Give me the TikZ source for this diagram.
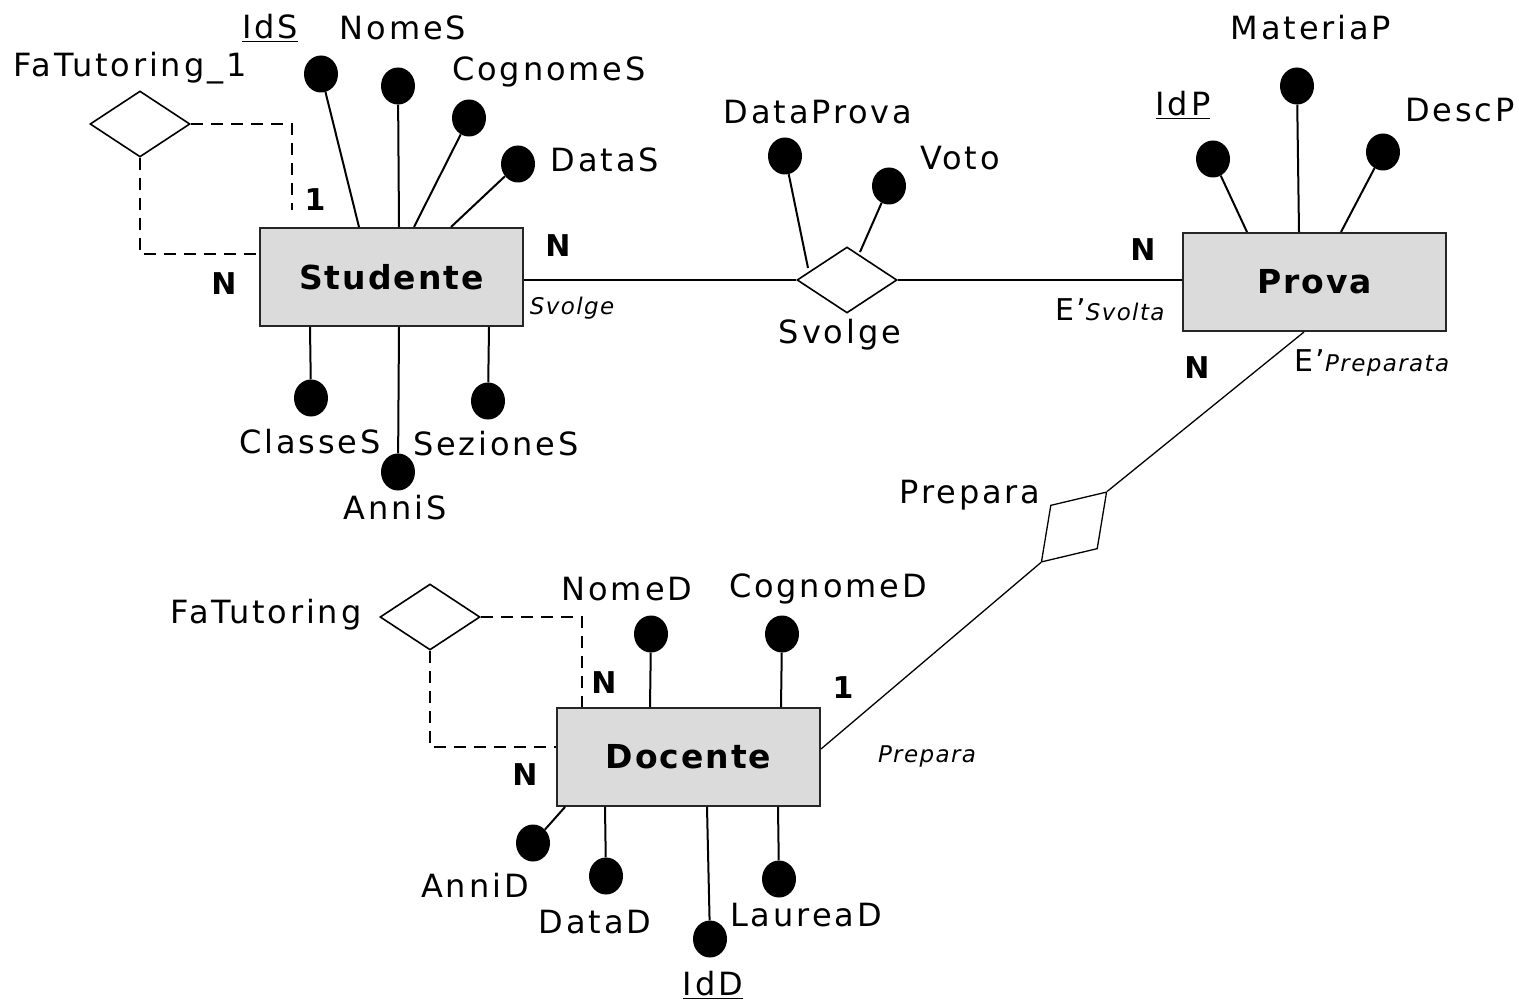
\documentclass[tikz,border=0pt]{standalone}
\usepackage{fontspec}
\setmainfont{DejaVu Sans}[LetterSpace=6]
\newfontfamily\lblfont{DejaVu Sans}[LetterSpace=9]
\usetikzlibrary{shapes.geometric}
\begin{document}
\begin{tikzpicture}[x=1pt,y=-1pt,
 entity/.style={draw=black!85, line width=2pt, fill=black!14, minimum width=263pt, minimum height=98pt, inner sep=0pt, font=\fontsize{33}{40}\selectfont\bfseries},
 rel/.style={draw, shape=diamond, line width=1.6pt, inner sep=0pt, minimum width=100pt, minimum height=66pt, fill=white},
 attr/.style={ellipse, fill=black, minimum width=34pt, minimum height=37pt, inner sep=0pt},
 lbl/.style={font=\lblfont\fontsize{32}{38}\selectfont, inner sep=0pt},
 card/.style={font=\fontsize{30}{36}\selectfont\bfseries, inner sep=0pt},
 role/.style={font=\fontsize{23}{28}\selectfont\itshape, inner sep=0pt},
 conn/.style={line width=2pt},
 thinconn/.style={line width=1.3pt},
 dconn/.style={line width=2pt, dash pattern=on 12pt off 8pt}]
\fill[white] (0,0) rectangle (1519,1003);
\useasboundingbox (0,0) rectangle (1519,1003);

% entities
\node[entity] (stud) at (391.5,277) {Studente};
\node[entity] (prova) at (1314.5,282) {Prova};
\node[entity] (doc) at (688.5,757) {Docente};

% relationships
\node[rel] (svolge) at (847,280) {};
\node[rel] (fat1) at (140,124) {};
\node[rel] (fat) at (430,617) {};
\node[rel, rotate=47, minimum width=96pt, minimum height=64pt, line width=1.3pt] (prep) at (1074,527) {};

% attributes
\node[attr] (ids) at (321,74) {};
\node[attr] (nomes) at (398,86) {};
\node[attr] (cognomes) at (469,118) {};
\node[attr] (datas) at (518,164) {};
\node[attr] (classes) at (311,398) {};
\node[attr] (annis) at (398,472) {};
\node[attr] (seziones) at (488,401) {};
\node[attr] (dataprova) at (785,156) {};
\node[attr] (voto) at (889,186) {};
\node[attr] (idp) at (1213,159) {};
\node[attr] (materiap) at (1297,86) {};
\node[attr] (descp) at (1383,152) {};
\node[attr] (nomed) at (651,634) {};
\node[attr] (cognomed) at (782,634) {};
\node[attr] (annid) at (533,843) {};
\node[attr] (datad) at (606,876) {};
\node[attr] (idd) at (710,939) {};
\node[attr] (lauread) at (779,879) {};

% attribute connectors
\draw[conn] (ids) -- ([xshift=100pt]stud.north west);
\draw[conn] (nomes) -- ([xshift=140pt]stud.north west);
\draw[conn] (cognomes) -- ([xshift=155pt]stud.north west);
\draw[conn] (datas) -- ([xshift=192pt]stud.north west);
\draw[conn] (classes) -- ([xshift=51pt]stud.south west);
\draw[conn] (annis) -- ([xshift=140pt]stud.south west);
\draw[conn] (seziones) -- ([xshift=230pt]stud.south west);
\draw[conn] (dataprova) -- ([shift={(-39pt,12pt)}]svolge.center);
\draw[conn] (voto) -- ([shift={(13pt,28pt)}]svolge.center);
\draw[conn] (idp) -- ([xshift=65pt]prova.north west);
\draw[conn] (materiap) -- ([xshift=117pt]prova.north west);
\draw[conn] (descp) -- ([xshift=159pt]prova.north west);
\draw[conn] (nomed) -- ([xshift=94pt]doc.north west);
\draw[conn] (cognomed) -- ([xshift=225pt]doc.north west);
\draw[conn] (annid) -- ([xshift=9pt]doc.south west);
\draw[conn] (datad) -- ([xshift=49pt]doc.south west);
\draw[conn] (idd) -- ([xshift=151pt]doc.south west);
\draw[conn] (lauread) -- ([xshift=222pt]doc.south west);

% relationship connectors
\draw[conn] (svolge.west -| stud.east) -- (svolge.west);
\draw[conn] (svolge.east) -- (svolge.east -| prova.west);
\draw[thinconn] ([xshift=122pt]prova.south west) -- (prep.east);
\draw[thinconn] (prep.west) -- ([yshift=8pt]doc.east);
\coordinate (t1) at (292,210);
\draw[dconn] (fat1.east) -| (t1);
\draw[dconn] (fat1.south) |- ([yshift=-27pt]stud.north west);
\draw[dconn] (fat.east) -| ([xshift=26pt]doc.north west);
\draw[dconn] (fat.south) |- ([yshift=-40pt]doc.north west);

% labels
\node[lbl] (l-ids) at (270,28) {\underline{IdS}};
\node[lbl] (l-nomes) at (403,28) {NomeS};
\node[lbl] (l-cognomes) at (549,72) {CognomeS};
\node[lbl] (l-datas) at (605,160) {DataS};
\node[lbl] (l-classes) at (310,442) {ClasseS};
\node[lbl] (l-annis) at (395,508) {AnniS};
\node[lbl] (l-seziones) at (496,444) {SezioneS};
\node[lbl] (l-dataprova) at (818,112) {DataProva};
\node[lbl] (l-voto) at (960,158) {Voto};
\node[lbl] (l-svolge) at (840,335) {Svolge};
\node[lbl] (l-fat1) at (130,68) {FaTutoring\_1};
\node[lbl] (l-idp) at (1183,105) {\underline{IdP}};
\node[lbl] (l-materiap) at (1311,28) {MateriaP};
\node[lbl] (l-descp) at (1460,110) {DescP};
\node[lbl] (l-prepara) at (970,495) {Prepara};
\node[lbl] (l-fat) at (266,615) {FaTutoring};
\node[lbl] (l-nomed) at (627,589) {NomeD};
\node[lbl] (l-cognomed) at (828,589) {CognomeD};
\node[lbl] (l-annid) at (475,885) {AnniD};
\node[lbl] (l-datad) at (595,922) {DataD};
\node[lbl] (l-idd) at (713,985) {\underline{IdD}};
\node[lbl] (l-lauread) at (806,915) {LaureaD};

% cardinalities
\node[card] (c1) at (558,246) {N};
\node[card] (c2) at (315,200) {1};
\node[card] (c3) at (224,284) {N};
\node[card] (c4) at (1143,250) {N};
\node[card] (c5) at (1197,368) {N};
\node[card] (c6) at (843,688) {1};
\node[card] (c7) at (604,683) {N};
\node[card] (c8) at (525,775) {N};

% roles
\node[role] (r1) at (572,308) {Svolge};
\node[role] (r2) at (1110,310) {{\upshape\fontsize{30}{36}\selectfont E'}Svolta};
\node[role] (r3) at (1372,363) {{\upshape\fontsize{30}{36}\selectfont E'}Preparata};
\node[role] (r4) at (927,757) {Prepara};
\end{tikzpicture}
\end{document}
